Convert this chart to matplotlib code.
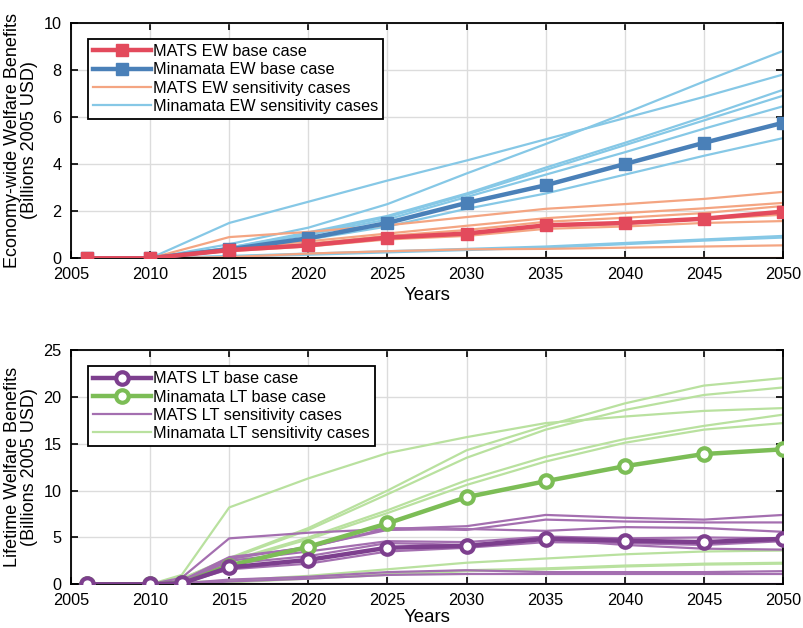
import matplotlib
matplotlib.use('Agg')
import matplotlib.pyplot as plt

plt.rcParams['font.family'] = ['Liberation Sans', 'DejaVu Sans']

# ---- data: economy-wide (EW) benefits, billions 2005 USD ----
years_ew = [2006, 2010, 2015, 2020, 2025, 2030, 2035, 2040, 2045, 2050]
mats_ew_base = [0, 0, 0.35, 0.55, 0.88, 1.05, 1.40, 1.50, 1.68, 1.98]
mina_ew_base = [0, 0, 0.38, 0.85, 1.50, 2.35, 3.10, 4.00, 4.90, 5.75]
mats_ew_sens = [
    [0, 0, 0.90, 1.12, 1.40, 1.75, 2.10, 2.30, 2.52, 2.82],
    [0, 0, 0.40, 0.72, 1.05, 1.38, 1.70, 1.92, 2.12, 2.35],
    [0, 0, 0.36, 0.62, 0.95, 1.20, 1.55, 1.72, 1.92, 2.22],
    [0, 0, 0.32, 0.56, 0.86, 1.02, 1.36, 1.46, 1.66, 1.85],
    [0, 0, 0.30, 0.50, 0.80, 0.95, 1.25, 1.35, 1.50, 1.58],
    [0, 0, 0.05, 0.20, 0.30, 0.38, 0.40, 0.45, 0.50, 0.55],
    [0, 0, 0, 0, 0, 0, 0, 0, 0, 0],
]
mina_ew_sens = [
    [0, 0, 1.50, 2.40, 3.30, 4.15, 5.05, 5.95, 6.85, 7.80],
    [0, 0, 0.60, 1.30, 2.30, 3.60, 4.85, 6.15, 7.50, 8.80],
    [0, 0, 0.45, 1.10, 1.80, 2.75, 3.85, 4.90, 6.00, 7.15],
    [0, 0, 0.45, 1.05, 1.75, 2.70, 3.75, 4.80, 5.85, 6.90],
    [0, 0, 0.42, 1.00, 1.65, 2.60, 3.55, 4.50, 5.50, 6.45],
    [0, 0, 0.35, 0.80, 1.35, 2.10, 2.75, 3.55, 4.35, 5.10],
    [0, 0, 0.10, 0.20, 0.30, 0.40, 0.50, 0.65, 0.80, 0.95],
    [0, 0, 0.08, 0.15, 0.25, 0.35, 0.45, 0.60, 0.75, 0.88],
]

# ---- data: lifetime (LT) benefits, billions 2005 USD ----
years_lt = [2006, 2010, 2012, 2015, 2020, 2025, 2030, 2035, 2040, 2045, 2050]
mats_lt_base = [0, 0, 0.1, 1.8, 2.6, 3.9, 4.1, 4.85, 4.65, 4.5, 4.85]
mina_lt_base = [0, 0, 0.1, 2.0, 4.0, 6.5, 9.3, 11.0, 12.6, 13.9, 14.4]
mats_lt_sens = [
    [0, 0, 0.7, 4.9, 5.5, 5.9, 6.2, 7.4, 7.1, 6.9, 7.4],
    [0, 0, 0.4, 2.9, 3.9, 6.0, 5.8, 6.9, 6.7, 6.6, 6.6],
    [0, 0, 0.3, 2.7, 4.0, 5.8, 5.9, 5.7, 6.1, 6.0, 5.6],
    [0, 0, 0.2, 2.5, 3.5, 4.6, 4.5, 5.1, 4.9, 5.0, 4.9],
    [0, 0, 0.2, 2.2, 3.0, 4.4, 4.2, 4.8, 4.2, 3.8, 3.7],
    [0, 0, 0.1, 1.6, 2.2, 3.5, 3.9, 4.5, 4.4, 4.2, 4.6],
    [0, 0, 0.1, 0.5, 0.8, 1.3, 1.5, 1.3, 1.3, 1.3, 1.4],
    [0, 0, 0.0, 0.3, 0.6, 1.0, 1.1, 1.1, 1.1, 1.1, 1.1],
    [0, 0, 0, 0, 0, 0, 0, 0, 0, 0, 0],
]
mina_lt_sens = [
    [0, 0, 1.0, 8.2, 11.3, 14.0, 15.7, 17.2, 17.9, 18.5, 18.8],
    [0, 0, 0.6, 2.8, 6.0, 10.0, 14.3, 16.9, 19.3, 21.2, 22.0],
    [0, 0, 0.6, 2.7, 5.8, 9.6, 13.5, 16.5, 18.6, 20.2, 21.0],
    [0, 0, 0.5, 2.5, 5.0, 7.9, 11.1, 13.6, 15.5, 16.9, 18.1],
    [0, 0, 0.5, 2.4, 4.8, 7.6, 10.6, 13.1, 15.1, 16.5, 17.2],
    [0, 0, 0.2, 0.4, 0.9, 1.6, 2.3, 2.75, 3.2, 3.5, 3.6],
    [0, 0, 0.1, 0.3, 0.7, 1.1, 1.5, 1.7, 2.0, 2.2, 2.3],
    [0, 0, 0.1, 0.2, 0.6, 1.0, 1.4, 1.6, 1.9, 2.1, 2.2],
]

# colours
RED = '#e34a5c'
BLUE = '#4a80b8'
ORANGE = '#f4a582'
LBLUE = '#86c8e6'
PURPLE = '#7d3f8e'
LPURPLE = '#a46fb0'
GREEN = '#7cbd56'
LGREEN = '#b9e19f'


def style_axes(ax, ylim, yticks, xlabelpad):
    ax.set_xlim(2005, 2050)
    ax.set_xticks(range(2005, 2051, 5))
    ax.set_ylim(*ylim)
    ax.set_yticks(yticks)
    ax.grid(True, color='#dcdcdc', linewidth=1.0)
    ax.set_axisbelow(True)
    ax.tick_params(direction='in', length=5, width=1.2, top=True, right=True,
                   labelsize=11.7)
    ax.tick_params(axis='x', pad=6)
    ax.tick_params(axis='y', pad=7)
    for s in ax.spines.values():
        s.set_linewidth(1.3)
    ax.set_xlabel('Years', fontsize=13.4, labelpad=xlabelpad)


fig = plt.figure(figsize=(8.04, 6.28), dpi=100)
ax1 = fig.add_axes([0.0883, 0.5887, 0.8856, 0.3752])
ax2 = fig.add_axes([0.0883, 0.0696, 0.8856, 0.3731])

# ---- top panel ----
for s in mina_ew_sens:
    ax1.plot(years_ew, s, color=LBLUE, lw=1.6, zorder=2)
for s in mats_ew_sens:
    ax1.plot(years_ew, s, color=ORANGE, lw=1.6, zorder=2)
h_mb, = ax1.plot(years_ew, mina_ew_base, color=BLUE, lw=3.2, marker='s',
                 ms=8, zorder=4)
h_rb, = ax1.plot(years_ew, mats_ew_base, color=RED, lw=3.2, marker='s',
                 ms=8, zorder=5)
h_os, = ax1.plot([], [], color=ORANGE, lw=1.6)
h_ls, = ax1.plot([], [], color=LBLUE, lw=1.6)
style_axes(ax1, (0, 10), range(0, 11, 2), 4)
ax1.set_ylabel('Economy-wide Welfare Benefits\n(Billions 2005 USD)',
               fontsize=13, labelpad=4, linespacing=0.95)
leg1 = ax1.legend([h_rb, h_mb, h_os, h_ls],
                  ['MATS EW base case', 'Minamata EW base case',
                   'MATS EW sensitivity cases', 'Minamata EW sensitivity cases'],
                  loc='upper left', bbox_to_anchor=(0.024, 0.93),
                  fontsize=11.7, fancybox=False, framealpha=1,
                  edgecolor='black', handlelength=3.6, handletextpad=0.1,
                  labelspacing=0.2, borderpad=0.3, borderaxespad=0)
leg1.get_frame().set_linewidth(1.3)

# ---- bottom panel ----
for s in mina_lt_sens:
    ax2.plot(years_lt, s, color=LGREEN, lw=1.6, zorder=2)
for s in mats_lt_sens:
    ax2.plot(years_lt, s, color=LPURPLE, lw=1.6, zorder=2)
h_gb, = ax2.plot(years_lt, mina_lt_base, color=GREEN, lw=3.2, marker='o',
                 ms=9, mfc='white', mew=3, zorder=4)
h_pb, = ax2.plot(years_lt, mats_lt_base, color=PURPLE, lw=3.2, marker='o',
                 ms=9, mfc='white', mew=3, zorder=5)
h_ps, = ax2.plot([], [], color=LPURPLE, lw=1.6)
h_gs, = ax2.plot([], [], color=LGREEN, lw=1.6)
style_axes(ax2, (0, 25), range(0, 26, 5), 1)
ax2.set_ylabel('Lifetime Welfare Benefits\n(Billions 2005 USD)',
               fontsize=13, labelpad=4, linespacing=0.95)
leg2 = ax2.legend([h_pb, h_gb, h_ps, h_gs],
                  ['MATS LT base case', 'Minamata LT base case',
                   'MATS LT sensitivity cases', 'Minamata LT sensitivity cases'],
                  loc='upper left', bbox_to_anchor=(0.024, 0.93),
                  fontsize=11.7, fancybox=False, framealpha=1,
                  edgecolor='black', handlelength=3.6, handletextpad=0.1,
                  labelspacing=0.2, borderpad=0.3, borderaxespad=0)
leg2.get_frame().set_linewidth(1.3)

fig.savefig('out.png', dpi=100)
